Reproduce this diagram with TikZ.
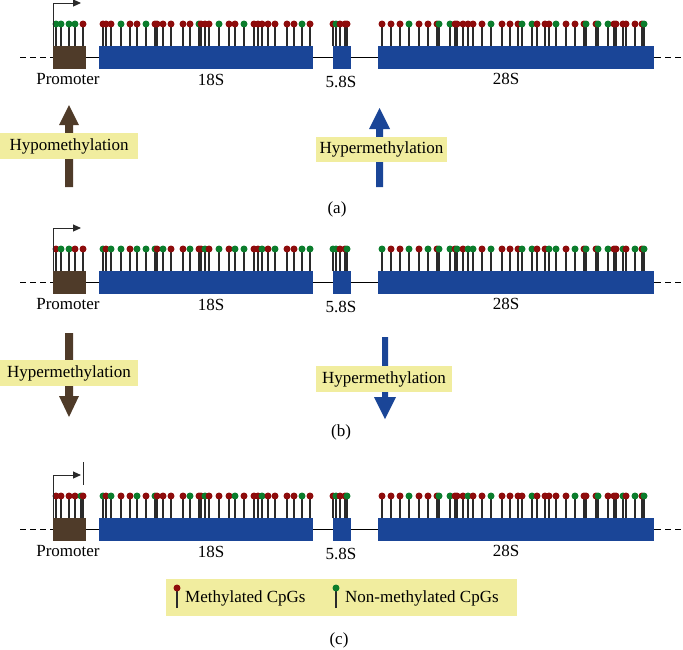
\documentclass[tikz,border=0pt]{standalone}
\usepackage{fontspec}
\setmainfont{Liberation Serif}
\usetikzlibrary{arrows.meta}
\definecolor{brn}{HTML}{4F3B29}
\definecolor{blu}{HTML}{1A4597}
\definecolor{mR}{HTML}{8E0C0C}
\definecolor{mG}{HTML}{0B7D2C}
\definecolor{ylw}{HTML}{F1ED9F}
\definecolor{stk}{HTML}{2A2A2A}
\tikzset{
  stick/.style={draw=stk,line width=1.1pt},
  lbl/.style={inner sep=0pt,anchor=center},
  tag/.style={fill=ylw,inner sep=0pt,anchor=center},
  tss/.style={draw=stk,line width=1pt,-{Triangle[length=8pt,width=7pt]}},
}
\newcommand\drawgene[3]{%
  \draw[line width=1pt,dash pattern=on 6pt off 4pt] (20,#1) -- (53,#1);
  \draw[line width=1pt,dash pattern=on 6pt off 4pt] (655,#1) -- (683,#1);
  \draw[line width=1pt] (53,#1) -- (655,#1);
  \fill[brn] (53,#1-11) rectangle (86,#1+12);
  \fill[blu] (99,#1-11) rectangle (313,#1+12);
  \fill[blu] (333,#1-11) rectangle (351,#1+12);
  \fill[blu] (378,#1-11) rectangle (654,#1+12);
  \foreach \x/\c in {#3} {
    \draw[stick] (\x,#1-11) -- (\x,#1-33);
    \fill[m\c] (\x,#1-33) circle (3.5);
  }
  \node[lbl] (prom#2) at (68,#1+22) {Promoter};
  \node[lbl] (s18#2) at (211,#1+23) {18S};
  \node[lbl] (s58#2) at (341,#1+25) {5.8S};
  \node[lbl] (s28#2) at (506,#1+22) {28S};
  \coordinate (tssa#2) at (53,#1-11);
  \coordinate (tssb#2) at (53,#1-54);
  \coordinate (tssc#2) at (81,#1-54);
  \draw[tss] (tssa#2) -- (tssb#2) -- (tssc#2);
}
\begin{document}
\begin{tikzpicture}[x=1pt,y=-1pt,font=\fontsize{17}{20}\selectfont]
\useasboundingbox (0,0) rectangle (683,649);
% ---------- panel (a)
\drawgene{57}{a}{56/G,61/G,69/G,75/G,83/R,103/R,106/R,111/R,121/G,130/R,137/R,146/G,155/R,157/R,163/R,171/R,183/R,190/R,199/G,201/R,205/R,209/R,219/G,229/R,235/R,244/G,254/R,258/R,262/R,268/R,275/R,287/R,294/R,302/G,310/R,333/R,336/G,340/R,345/R,347/R,382/R,391/R,400/R,409/G,419/R,428/R,437/R,439/G,450/G,455/R,457/R,463/R,468/R,473/R,482/R,491/G,502/R,510/R,518/R,522/G,532/G,537/R,545/R,549/R,556/G,566/R,575/R,584/R,586/G,596/R,598/G,608/G,614/R,616/R,623/R,626/R,635/R,642/R,644/G}
\fill[brn] (65,187) -- (73,187) -- (73,125) -- (79,125) -- (69,105) -- (59,125) -- (65,125) -- cycle;
\node[tag,minimum width=138pt,minimum height=26pt] (hypoa) at (69,146) {Hypomethylation};
\fill[blu] (376,187) -- (383,187) -- (383,129) -- (390,129) -- (379.5,108) -- (369,129) -- (376,129) -- cycle;
\node[tag,minimum width=131pt,minimum height=25pt] (hypera) at (381.5,149.5) {Hypermethylation};
\node[lbl] (capa) at (337,209) {(a)};
% ---------- panel (b)
\drawgene{282}{b}{56/R,61/G,69/G,75/R,83/R,103/G,106/R,111/G,121/G,130/R,137/G,146/G,155/G,157/R,163/G,171/R,183/R,190/G,199/R,201/R,205/G,209/R,219/G,229/R,235/G,244/G,254/R,258/R,262/G,268/R,275/G,287/R,294/R,302/G,310/G,333/G,336/G,340/R,345/R,347/G,382/G,391/R,400/R,409/G,419/R,428/G,437/R,439/G,450/G,455/R,457/G,463/R,468/G,473/G,482/R,491/G,502/R,510/R,518/R,522/G,532/G,537/R,545/R,549/G,556/G,566/R,575/G,584/R,586/G,596/R,598/G,608/G,614/R,616/R,623/G,626/R,635/G,642/R,644/G}
\fill[brn] (65,333) -- (73,333) -- (73,396) -- (79,396) -- (69,417) -- (59,396) -- (65,396) -- cycle;
\node[tag,minimum width=138pt,minimum height=26pt] (hyperb1) at (69,373) {Hypermethylation};
\fill[blu] (382,337) -- (388,337) -- (388,397) -- (396,397) -- (385,419) -- (374,397) -- (382,397) -- cycle;
\node[tag,minimum width=136pt,minimum height=26pt] (hyperb2) at (384,379) {Hypermethylation};
\node[lbl] (capb) at (341,432) {(b)};
% ---------- panel (c)
\drawgene{529}{c}{56/R,61/R,69/R,75/R,81/G,83/R,103/G,106/R,111/G,121/R,130/R,137/G,146/R,155/G,157/R,163/R,171/R,183/R,190/G,199/R,201/R,205/G,209/R,219/R,229/R,235/G,244/R,254/R,258/R,262/G,268/R,275/R,287/R,294/R,302/G,310/R,333/R,336/G,340/R,345/R,347/G,382/R,391/R,400/R,409/G,419/R,428/R,437/R,439/G,450/G,455/R,457/R,463/R,468/G,473/R,482/R,491/G,502/R,510/R,518/R,522/R,532/G,537/R,545/R,549/R,556/R,566/R,575/G,584/R,586/R,596/R,598/G,608/R,614/R,616/R,623/G,626/R,635/G,642/R,644/G}
\coordinate (stopa) at (83,462);
\coordinate (stopb) at (83,485);
\draw[draw=stk,line width=1pt] (stopa) -- (stopb);
% legend
\node[tag,minimum width=351pt,minimum height=37pt] (legend) at (341.5,597.5) {};
\draw[stick] (177,608) -- (177,588);
\fill[mR] (177,588) circle (3.5);
\node[lbl,anchor=west] (legm) at (185,598) {Methylated CpGs};
\draw[stick] (336,608) -- (336,588);
\fill[mG] (336,588) circle (3.5);
\node[lbl,anchor=west] (legn) at (345,598) {Non-methylated CpGs};
\node[lbl] (capc) at (339,640) {(c)};
\end{tikzpicture}
\end{document}
